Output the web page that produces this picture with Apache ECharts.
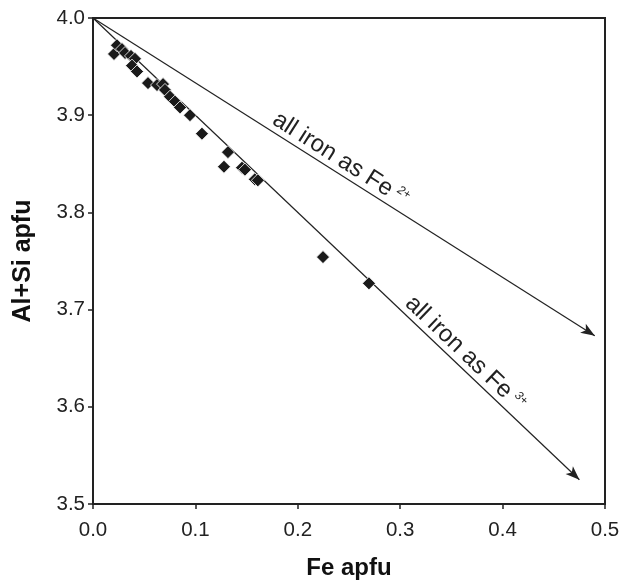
<!DOCTYPE html>
<html>
<head>
<meta charset="utf-8">
<script src="https://cdn.jsdelivr.net/npm/echarts@6/dist/echarts.min.js"></script>
<style>
html,body{margin:0;padding:0;background:#fff;}
#chart{width:630px;height:585px;}
</style>
</head>
<body>
<div id="chart"></div>
<script>
// Fe apfu (x) vs Al+Si apfu (y)
const feValues = [0.0205,0.0234,0.0283,0.0313,0.0371,0.0410,0.0381,0.0430,0.0537,0.0625,0.0684,0.0703,0.0752,0.0801,0.0850,0.0947,0.1064,0.1318,0.1279,0.1455,0.1484,0.1580,0.1610,0.2246,0.2695];
const alSiValues = [3.963,3.972,3.968,3.964,3.961,3.958,3.951,3.945,3.933,3.931,3.932,3.926,3.919,3.914,3.908,3.900,3.881,3.862,3.847,3.846,3.844,3.834,3.833,3.754,3.727];
// reference lines (start, end with arrow)
const fe2Line = [[0, 4.0], [0.49, 3.673]];
const fe3Line = [[0, 4.0], [0.475, 3.525]];
const fe2LabelAt = 0.235;  // x value where the Fe2+ label is centred
const fe3LabelAt = 0.355;  // x value where the Fe3+ label is centred
const xTicks = [0.0, 0.1, 0.2, 0.3, 0.4, 0.5];
const yTicks = [3.5, 3.6, 3.7, 3.8, 3.9, 4.0];

const FONT = '"Liberation Sans", Arial, Helvetica, sans-serif';
const chart = echarts.init(document.getElementById('chart'), null, {renderer: 'canvas'});

const points = feValues.map((v, i) => [v, alSiValues[i]]);

const option = {
  animation: false,
  backgroundColor: '#fff',
  grid: {left: 93, right: 25, top: 18, bottom: 81, show: true, borderColor: '#222', borderWidth: 2, backgroundColor: 'transparent'},
  xAxis: {
    type: 'value', min: xTicks[0], max: xTicks[xTicks.length - 1], interval: 0.1,
    name: 'Fe apfu', nameLocation: 'middle', nameGap: 52,
    nameTextStyle: {fontFamily: FONT, fontWeight: 'bold', fontSize: 24, color: '#111'},
    axisLine: {show: true, lineStyle: {color: '#222', width: 2}},
    axisTick: {show: true, length: 5, lineStyle: {color: '#222', width: 1.5}},
    axisLabel: {fontFamily: FONT, fontSize: 20.5, color: '#222', margin: 16, formatter: v => v.toFixed(1)},
    splitLine: {show: false}
  },
  yAxis: {
    type: 'value', min: yTicks[0], max: yTicks[yTicks.length - 1], interval: 0.1,
    name: 'Al+Si apfu', nameLocation: 'middle', nameGap: 57, nameRotate: 90,
    nameTextStyle: {fontFamily: FONT, fontWeight: 'bold', fontSize: 25, color: '#111'},
    axisLine: {show: true, lineStyle: {color: '#222', width: 2}},
    axisTick: {show: true, length: 5, lineStyle: {color: '#222', width: 1.5}},
    axisLabel: {fontFamily: FONT, fontSize: 20.5, color: '#222', margin: 8, formatter: v => v.toFixed(1)},
    splitLine: {show: false}
  },
  series: [{
    type: 'scatter',
    data: points,
    symbol: 'diamond',
    symbolSize: 13,
    itemStyle: {color: '#1a1a1a', borderColor: '#fff', borderWidth: 0.8, opacity: 1},
    z: 3,
    markLine: {
      silent: true,
      symbol: ['none', 'arrow'],
      symbolSize: [8, 14],
      label: {show: false},
      lineStyle: {color: '#222', type: 'solid', width: 1.2},
      data: [
        [{coord: fe2Line[0]}, {coord: fe2Line[1]}],
        [{coord: fe3Line[0]}, {coord: fe3Line[1]}]
      ],
      z: 2
    }
  }]
};
chart.setOption(option);

function lineLabel(line, atX, sup, offset) {
  const p0 = chart.convertToPixel({gridIndex: 0}, line[0]);
  const p1 = chart.convertToPixel({gridIndex: 0}, line[1]);
  const t = (atX - line[0][0]) / (line[1][0] - line[0][0]);
  const cx = p0[0] + (p1[0] - p0[0]) * t;
  const cy = p0[1] + (p1[1] - p0[1]) * t;
  const th = Math.atan2(p1[1] - p0[1], p1[0] - p0[0]);
  const nx = Math.sin(th), ny = -Math.cos(th);
  return {
    type: 'text',
    x: cx + nx * offset, y: cy + ny * offset,
    rotation: -th,
    z: 10,
    style: {
      text: '{a|all iron as Fe}{s|' + sup + '}',
      align: 'center', verticalAlign: 'bottom',
      textAlign: 'center', textVerticalAlign: 'bottom',
      rich: {
        a: {fontFamily: FONT, fontSize: 24, fill: '#222', color: '#222'},
        s: {fontFamily: FONT, fontSize: 12, fontStyle: 'italic', fill: '#222', color: '#222', verticalAlign: 'top', padding: [0, 0, 0, 5]}
      },
      fill: '#222'
    }
  };
}

chart.setOption({
  graphic: [
    lineLabel(fe2Line, fe2LabelAt, '2+', 1),
    lineLabel(fe3Line, fe3LabelAt, '3+', 1)
  ]
});
</script>
</body>
</html>
